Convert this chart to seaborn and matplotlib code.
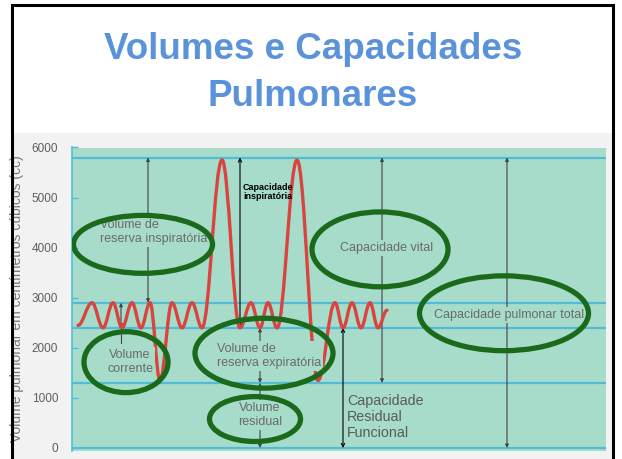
import numpy as np
import pandas as pd
import matplotlib
matplotlib.use("Agg")
import matplotlib.pyplot as plt
from matplotlib.path import Path
from matplotlib.patches import PathPatch, Ellipse, Rectangle
import seaborn as sns

# spirogram: turning points of the red trace
tempo = [6, 20, 31, 41, 50, 60, 69, 78, 88, 100, 110, 120, 130, 150, 168,
         179, 188, 196, 205, 225, 246, 263, 271, 280, 289, 298, 306, 315]
volume = [2450, 2900, 2400, 2900, 2400, 2900, 2400, 2900, 1350, 2900, 2400,
          2900, 2400, 5750, 2400, 2900, 2400, 2900, 2400, 5750, 1350, 2900,
          2400, 2900, 2400, 2900, 2400, 2750]

# horizontal reference levels (cc)
niveis = [5800, 2900, 2400, 1300, 0]
yticks = [0, 1000, 2000, 3000, 4000, 5000, 6000]

# arrows: x position, from, to
setas_x = [76, 49, 188, 188, 310, 435]
setas_de = [5800, 2900, 2400, 1300, 5800, 5800]
setas_ate = [2900, 2400, 1300, 0, 1300, 0]
setas_pretas_x = [168, 271]
setas_pretas_de = [5800, 2400]
setas_pretas_ate = [2400, 0]

# green circles drawn over the scan: center x, center y, width, height
elipse_x = [71, 54, 192, 183, 308, 432]
elipse_y = [4066, 1714, 1893, 578, 3966, 2690]
elipse_w = [139, 84, 138, 91, 136, 169]
elipse_h = [1156, 1216, 1395, 897, 1495, 1495]

rotulos = ["Volume de\nreserva inspiratória", "Volume\ncorrente",
           "Volume de\nreserva expiratória", "Volume\nresidual",
           "Capacidade vital", "Capacidade pulmonar total"]
rotulo_x = [28, 58, 145, 188, 315, 437]
rotulo_y = [4314, 1714, 1843, 658, 3986, 2651]
rotulo_ha = ["left", "center", "left", "center", "center", "center"]

TEAL = "#a7dccb"
AZUL = "#52bcd6"
VERMELHO = "#d9453e"
VERDE = "#1b6a1b"
CINZA = "#6a6a6a"

sns.set_theme(style="white")
plt.rcParams["font.family"] = ["Liberation Sans", "DejaVu Sans"]

fig = plt.figure(figsize=(6.22, 4.59), dpi=100)
fig.patch.set_facecolor("white")

# scanned page background and slide frame
fig.patches.append(Rectangle((14 / 622, 0), 598 / 622, 326 / 459,
                             transform=fig.transFigure, facecolor="#f2f2f2",
                             edgecolor="none", zorder=-5))
fig.patches.append(Rectangle((12 / 622, -0.05), 601 / 622, 1.05 - 5 / 459,
                             transform=fig.transFigure, facecolor="none",
                             edgecolor="black", lw=2.2, zorder=10))

fig.text(0.503, 0.893, "Volumes e Capacidades", ha="center", va="center",
         fontsize=26.5, fontweight="bold", color="#5b93db")
fig.text(0.503, 0.789, "Pulmonares", ha="center", va="center",
         fontsize=26.5, fontweight="bold", color="#5b93db")

ax = fig.add_axes([72 / 622, 8.5 / 459, 534 / 622, 303 / 459])
ax.set_facecolor(TEAL)
ax.set_xlim(0, 534)
ax.set_ylim(-50, 6000)

for nv in niveis:
    ax.axhline(nv, color=AZUL, lw=1.6, zorder=1)

# smooth trace: cubic segments with flat tangents at each turning point
df = pd.DataFrame({"t": tempo, "v": volume})
verts = [(df.t[0], df.v[0])]
codes = [Path.MOVETO]
for i in range(1, len(df)):
    t0, v0 = df.t[i - 1], df.v[i - 1]
    t1, v1 = df.t[i], df.v[i]
    k = 0.38 * (t1 - t0)
    verts += [(t0 + k, v0), (t1 - k, v1), (t1, v1)]
    codes += [Path.CURVE4] * 3
ax.add_patch(PathPatch(Path(verts, codes), facecolor="none",
                       edgecolor=VERMELHO, lw=2.4, zorder=3,
                       capstyle="round"))

for x, a, b in zip(setas_x, setas_de, setas_ate):
    ax.annotate("", xy=(x, b), xytext=(x, a),
                arrowprops=dict(arrowstyle="<|-|>", color="#444444", lw=0.8,
                                mutation_scale=5, shrinkA=0, shrinkB=0),
                zorder=2)
# tail of the tidal volume arrow
ax.plot([49, 49], [2400, 2090], color="#444444", lw=0.8, zorder=2)

for x, a, b in zip(setas_pretas_x, setas_pretas_de, setas_pretas_ate):
    ax.annotate("", xy=(x, b), xytext=(x, a),
                arrowprops=dict(arrowstyle="<->", color="black", lw=0.8,
                                mutation_scale=6, shrinkA=0, shrinkB=0),
                zorder=2)

for txt, x, y, ha in zip(rotulos, rotulo_x, rotulo_y, rotulo_ha):
    ax.text(x, y, txt, ha=ha, va="center", fontsize=9, color=CINZA,
            linespacing=1.2, zorder=4,
            bbox=dict(facecolor=TEAL, edgecolor="none", pad=1.5))

ax.text(275, 618, "Capacidade\nResidual\nFuncional", ha="left", va="center",
        fontsize=10.3, color="#5a5a5a", linespacing=1.15, zorder=4)
ax.text(196, 5112, "Capacidade\ninspiratória", ha="center", va="center",
        fontsize=6.5, fontweight="bold", color="black", linespacing=1.1,
        zorder=4)

for cx, cy, w, h in zip(elipse_x, elipse_y, elipse_w, elipse_h):
    ax.add_patch(Ellipse((cx, cy), w, h, facecolor="none", edgecolor=VERDE,
                         lw=3.8, zorder=5))

ax.set_xticks([])
ax.set_yticks(yticks)
ax.set_yticklabels([str(v) for v in yticks])
ax.tick_params(axis="y", direction="in", length=4, width=1, color=AZUL,
               labelsize=8.5, labelcolor="#5f5f5f", pad=10, left=True)
ax.set_ylabel("Volume pulmonar em centímetros cúbicos (cc)", fontsize=10,
              color="#777777")
ax.yaxis.set_label_coords(-0.089, 0.5)
for s in ["top", "right", "bottom"]:
    ax.spines[s].set_visible(False)
ax.spines["left"].set_color(AZUL)
ax.spines["left"].set_linewidth(1.2)

fig.savefig("out.png", dpi=100)
